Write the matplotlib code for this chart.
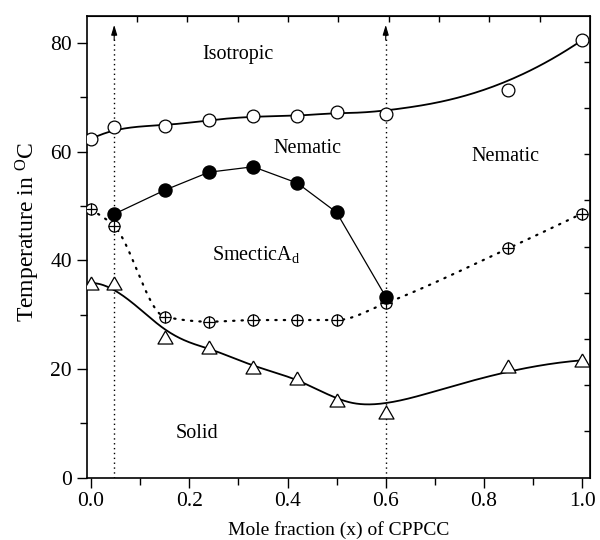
import numpy as np
import matplotlib
matplotlib.use("Agg")
import matplotlib.pyplot as plt

plt.rcParams['font.family'] = ['Liberation Serif', 'DejaVu Serif']
plt.rcParams['mathtext.fontset'] = 'custom'
plt.rcParams['mathtext.rm'] = 'Liberation Serif'
plt.rcParams['mathtext.it'] = 'Liberation Serif:italic'

# ---- data (mole fraction of CPPCC, temperatures in °C) ----
x_iso = [0.0, 0.047, 0.15, 0.24, 0.33, 0.42, 0.50, 0.60, 0.85, 1.0]
t_iso = [62.3, 64.5, 64.7, 65.8, 66.5, 66.5, 67.2, 67.0, 71.3, 80.5]

x_sn = [0.047, 0.15, 0.24, 0.33, 0.42, 0.50, 0.60]
t_sn = [48.5, 52.9, 56.2, 57.2, 54.2, 48.8, 33.3]

x_cr = [0.0, 0.047, 0.15, 0.24, 0.33, 0.42, 0.50, 0.60, 0.85, 1.0]
t_cr = [49.4, 46.3, 29.6, 28.7, 29.0, 29.0, 29.0, 32.1, 42.2, 48.6]

x_tri = [0.0, 0.047, 0.15, 0.24, 0.33, 0.42, 0.50, 0.60, 0.85, 1.0]
t_tri = [35.8, 35.9, 25.8, 24.0, 20.4, 18.3, 14.2, 12.1, 20.5, 21.6]

arrow_x = [0.047, 0.60]

labels = ["Isotropic", "Nematic", "Nematic", "SmecticA$_{\\rm d}$", "Solid"]
label_pos = [(0.30, 77.8), (0.44, 60.6), (0.843, 59.0), (0.337, 41.0), (0.215, 8.2)]


def bspline_curve(px, py, deg=3, n=400):
    """Clamped B-spline using the data points as control points."""
    px = np.asarray(px, float); py = np.asarray(py, float)
    m = len(px)
    inner = np.linspace(0, 1, m - deg + 1)
    knots = np.concatenate([np.zeros(deg), inner, np.ones(deg)])
    t = np.linspace(0, 1 - 1e-9, n)
    B = np.zeros((n, len(knots) - 1))
    for i in range(len(knots) - 1):
        B[:, i] = (knots[i] <= t) & (t < knots[i + 1])
    for d in range(1, deg + 1):
        Bn = np.zeros((n, len(knots) - 1 - d))
        for i in range(len(knots) - 1 - d):
            a = 0.0
            b = 0.0
            if knots[i + d] > knots[i]:
                a = (t - knots[i]) / (knots[i + d] - knots[i]) * B[:, i]
            if knots[i + d + 1] > knots[i + 1]:
                b = (knots[i + d + 1] - t) / (knots[i + d + 1] - knots[i + 1]) * B[:, i + 1]
            Bn[:, i] = a + b
        B = Bn
    return B @ px, B @ py


def pchip(x, y, xs):
    x = np.asarray(x, float); y = np.asarray(y, float)
    h = np.diff(x); delta = np.diff(y) / h
    n = len(x)
    d = np.zeros(n)
    for k in range(1, n - 1):
        if delta[k - 1] * delta[k] <= 0:
            d[k] = 0.0
        else:
            w1 = 2 * h[k] + h[k - 1]
            w2 = h[k] + 2 * h[k - 1]
            d[k] = (w1 + w2) / (w1 / delta[k - 1] + w2 / delta[k])
    d[0] = delta[0]
    d[-1] = delta[-1]
    out = np.empty_like(xs)
    for i, xv in enumerate(xs):
        k = min(max(np.searchsorted(x, xv) - 1, 0), n - 2)
        t = (xv - x[k]) / h[k]
        h00 = 2 * t**3 - 3 * t**2 + 1
        h10 = t**3 - 2 * t**2 + t
        h01 = -2 * t**3 + 3 * t**2
        h11 = t**3 - t**2
        out[i] = h00 * y[k] + h10 * h[k] * d[k] + h01 * y[k + 1] + h11 * h[k] * d[k + 1]
    return out


fig = plt.figure(figsize=(6, 5.4), dpi=100)
ax = fig.add_axes([0.1445, 0.1154, 0.8388, 0.8556])
xmin, xmax = -0.009, 1.016
ymin, ymax = 0, 85
ax.set_xlim(xmin, xmax)
ax.set_ylim(ymin, ymax)

xs = np.linspace(0, 1, 400)
tri_marker = [(0, 1), (-1.15, -1), (1.15, -1), (0, 1)]

# isotropic curve (B-spline through data as control points)
bx, by = bspline_curve(x_iso, t_iso)
ax.plot(bx, by, color='black', lw=1.3, zorder=2)
ax.plot(x_iso, t_iso, 'o', ms=9.2, mfc='white', mec='black', mew=0.9, zorder=4)

# smectic-nematic (straight segments)
ax.plot(x_sn, t_sn, '-', color='black', lw=0.9, zorder=2)
ax.plot(x_sn, t_sn, 'o', ms=9.4, mfc='black', mec='black', zorder=5)

# crossed circles dotted curve
ax.plot(xs, pchip(x_cr, t_cr, xs), color='black', lw=1.6,
        linestyle=(0, (0.6, 3.2)), dash_capstyle='round', zorder=2)
ax.plot(x_cr, t_cr, 'o', ms=8, mfc='white', mec='black', mew=0.9, zorder=4)
ax.plot(x_cr, t_cr, '+', ms=8, color='black', mew=0.9, zorder=4)

# triangles curve
bx, by = bspline_curve(x_tri, t_tri)
ax.plot(bx, by, color='black', lw=1.3, zorder=2)
ax.plot(x_tri, t_tri, marker=tri_marker, ls='none', ms=10.8, mfc='white',
        mec='black', mew=0.9, zorder=4)

# vertical dotted arrows
for xa in arrow_x:
    ax.plot([xa, xa], [0, 82], color='black', lw=1.0,
            linestyle=(0, (1, 2.5)), zorder=1)
    ax.annotate('', xy=(xa, 83.3), xytext=(xa, 80.5),
                arrowprops=dict(arrowstyle='-|>,head_length=0.6,head_width=0.18',
                                color='black', lw=0.8, shrinkA=0, shrinkB=0))

for txt, (lx, ly) in zip(labels, label_pos):
    ax.text(lx, ly, txt, fontsize=14.5, ha='center', va='center')

ax.set_xticks([0.0, 0.2, 0.4, 0.6, 0.8, 1.0])
ax.set_xticks([0.1, 0.3, 0.5, 0.7, 0.9], minor=True)
ax.set_yticks([0, 20, 40, 60, 80])
ax.set_yticks([10, 30, 50, 70], minor=True)
ax.xaxis.set_major_formatter(matplotlib.ticker.FormatStrFormatter('%.1f'))
ax.tick_params(which='major', direction='out', length=7, width=1, labelsize=15.5,
               top=False, right=False)
ax.tick_params(which='minor', direction='out', length=5, width=1,
               top=False, right=False)

# top and right inward ticks
top = ax.secondary_xaxis('top')
top.set_xticks(np.linspace(xmin, xmax, 11)[1:-1])
top.tick_params(direction='in', length=4, width=1, labeltop=False)
top.set_xticklabels([])
right = ax.secondary_yaxis('right')
right.set_yticks(np.linspace(ymin, ymax, 11)[1:-1])
right.tick_params(direction='in', length=4, width=1, labelright=False)
right.set_yticklabels([])

for s in ax.spines.values():
    s.set_linewidth(1.2)

ax.set_xlabel('Mole fraction (x) of CPPCC', fontsize=14, labelpad=7)
ax.set_ylabel('Temperature in $^{\\rm O}$C', fontsize=17)
ax.yaxis.set_label_coords(-0.088, 0.532)

fig.savefig('out.png', dpi=100)
